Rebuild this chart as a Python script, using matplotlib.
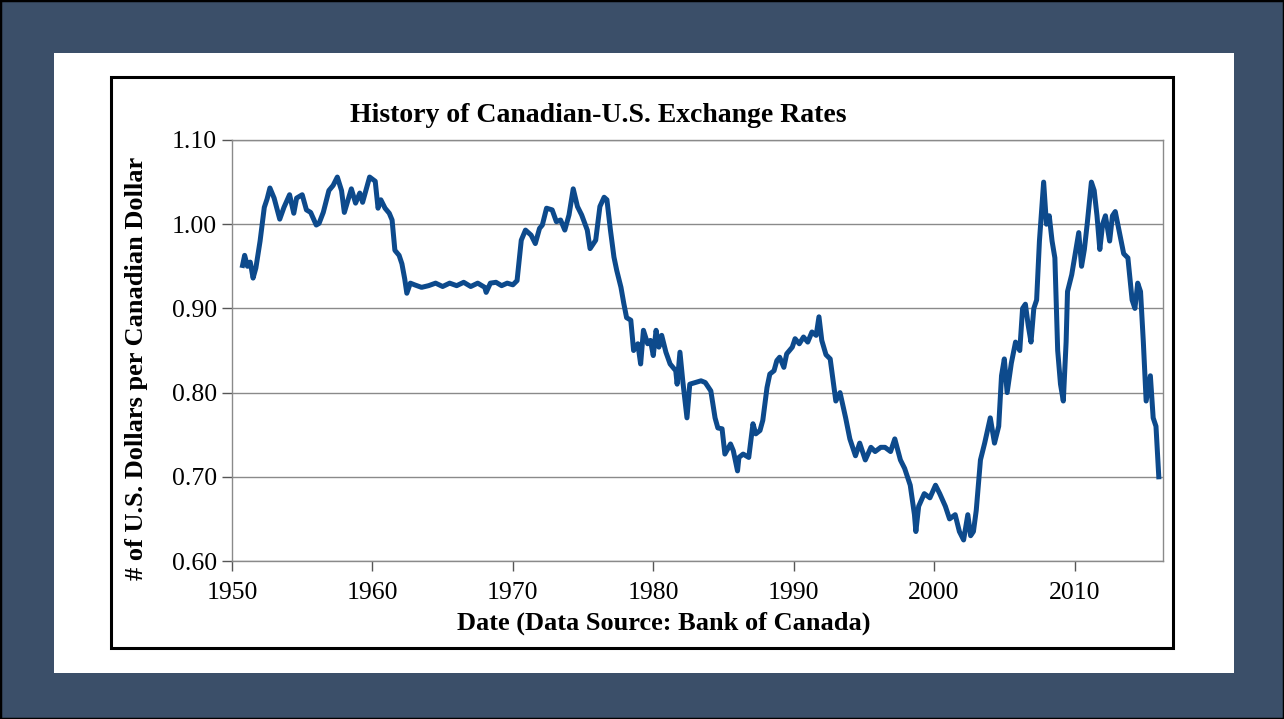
import matplotlib.pyplot as plt
from matplotlib.patches import Rectangle

W, H = 1284, 719

# (year, USD per CAD)
years = [
    1950.75, 1950.9, 1951.1, 1951.3, 1951.5, 1951.7, 1952.0, 1952.3, 1952.5, 1952.7,
    1953.0, 1953.4, 1953.7, 1954.1, 1954.4, 1954.6, 1955.0, 1955.3, 1955.6, 1956.0,
    1956.2, 1956.5, 1956.9, 1957.2, 1957.5, 1957.8, 1958.0, 1958.3, 1958.5, 1958.8,
    1959.1, 1959.3, 1959.8, 1960.2, 1960.4, 1960.6, 1960.9, 1961.2, 1961.4, 1961.6,
    1961.9, 1962.1, 1962.3, 1962.45, 1962.7, 1963.0, 1963.5, 1964.0, 1964.5, 1965.0,
    1965.5, 1966.0, 1966.5, 1967.0, 1967.5, 1968.0, 1968.1, 1968.4, 1968.8, 1969.2,
    1969.6, 1970.0, 1970.3, 1970.6, 1970.9, 1971.3, 1971.6, 1971.9, 1972.1, 1972.4,
    1972.8, 1973.1, 1973.4, 1973.7, 1974.0, 1974.3, 1974.6, 1974.9, 1975.3, 1975.5,
    1975.9, 1976.2, 1976.5, 1976.7, 1976.95, 1977.2, 1977.4, 1977.7, 1977.9, 1978.1,
    1978.4, 1978.6, 1978.9, 1979.1, 1979.3, 1979.6, 1979.8, 1980.0, 1980.2, 1980.4,
    1980.6, 1980.9, 1981.2, 1981.6, 1981.7, 1981.9, 1982.1, 1982.4, 1982.6, 1983.0,
    1983.4, 1983.7, 1984.1, 1984.4, 1984.6, 1984.9, 1985.1, 1985.5, 1985.7, 1986.0,
    1986.1, 1986.4, 1986.8, 1987.1, 1987.3, 1987.6, 1987.8, 1988.1, 1988.3, 1988.6,
    1988.8, 1989.0, 1989.3, 1989.5, 1989.9, 1990.1, 1990.4, 1990.7, 1991.0, 1991.3,
    1991.6, 1991.8, 1992.0, 1992.3, 1992.6, 1993.0, 1993.3, 1993.7, 1994.0, 1994.4,
    1994.7, 1995.1, 1995.5, 1995.8, 1996.2, 1996.5, 1996.9, 1997.2, 1997.6, 1997.9,
    1998.3, 1998.6, 1998.7, 1998.9, 1999.3, 1999.7, 2000.1, 2000.4, 2000.8, 2001.1,
    2001.5, 2001.8, 2002.1, 2002.4, 2002.6, 2002.8, 2003.0, 2003.3, 2003.6, 2004.0,
    2004.3, 2004.6, 2004.8, 2005.0, 2005.2, 2005.5, 2005.8, 2006.1, 2006.3, 2006.5,
    2006.7, 2006.9, 2007.1, 2007.3, 2007.5, 2007.8, 2008.0, 2008.2, 2008.4, 2008.6,
    2008.8, 2009.0, 2009.2, 2009.4, 2009.5, 2009.8, 2010.1, 2010.3, 2010.5, 2010.7,
    2010.9, 2011.2, 2011.4, 2011.6, 2011.8, 2012.0, 2012.2, 2012.5, 2012.7, 2012.9,
    2013.2, 2013.5, 2013.8, 2014.1, 2014.3, 2014.5, 2014.7, 2014.9, 2015.1, 2015.4,
    2015.6, 2015.8, 2016.0,
]
rates = [
    0.951, 0.963, 0.950, 0.955, 0.936, 0.948, 0.980, 1.020, 1.030, 1.043,
    1.031, 1.006, 1.020, 1.035, 1.013, 1.031, 1.035, 1.017, 1.014, 0.999,
    1.001, 1.014, 1.040, 1.046, 1.056, 1.040, 1.014, 1.031, 1.042, 1.025,
    1.037, 1.026, 1.056, 1.051, 1.019, 1.029, 1.019, 1.013, 1.005, 0.969,
    0.963, 0.953, 0.935, 0.918, 0.930, 0.928, 0.925, 0.927, 0.930, 0.926,
    0.930, 0.927, 0.931, 0.926, 0.930, 0.925, 0.919, 0.930, 0.931, 0.927,
    0.930, 0.928, 0.933, 0.981, 0.993, 0.987, 0.977, 0.995, 0.999, 1.019,
    1.017, 1.003, 1.005, 0.993, 1.011, 1.042, 1.021, 1.011, 0.993, 0.971,
    0.981, 1.021, 1.032, 1.029, 0.993, 0.961, 0.945, 0.925, 0.906, 0.889,
    0.886, 0.850, 0.858, 0.834, 0.874, 0.858, 0.862, 0.844, 0.874, 0.854,
    0.868, 0.848, 0.834, 0.826, 0.810, 0.848, 0.814, 0.770, 0.810, 0.812,
    0.814, 0.812, 0.802, 0.770, 0.758, 0.757, 0.727, 0.739, 0.731, 0.707,
    0.723, 0.727, 0.723, 0.763, 0.751, 0.755, 0.767, 0.806, 0.822, 0.826,
    0.838, 0.842, 0.830, 0.846, 0.854, 0.864, 0.858, 0.866, 0.860, 0.872,
    0.868, 0.890, 0.862, 0.845, 0.840, 0.790, 0.800, 0.770, 0.745, 0.725,
    0.740, 0.720, 0.735, 0.730, 0.735, 0.735, 0.730, 0.745, 0.720, 0.710,
    0.690, 0.655, 0.635, 0.665, 0.680, 0.675, 0.690, 0.680, 0.665, 0.650,
    0.655, 0.635, 0.625, 0.655, 0.630, 0.635, 0.660, 0.720, 0.740, 0.770,
    0.740, 0.760, 0.820, 0.840, 0.800, 0.835, 0.860, 0.850, 0.900, 0.905,
    0.880, 0.860, 0.900, 0.910, 0.980, 1.050, 1.000, 1.010, 0.980, 0.960,
    0.850, 0.810, 0.790, 0.860, 0.920, 0.940, 0.970, 0.990, 0.950, 0.970,
    1.000, 1.050, 1.040, 1.010, 0.970, 1.000, 1.010, 0.980, 1.010, 1.015,
    0.990, 0.965, 0.960, 0.910, 0.900, 0.930, 0.920, 0.860, 0.790, 0.820,
    0.770, 0.760, 0.700,
]

x_ticks = [1950, 1960, 1970, 1980, 1990, 2000, 2010]
y_ticks = [0.60, 0.70, 0.80, 0.90, 1.00, 1.10]

BG = "#3b4f69"
LINE = "#0d4a8c"
SERIF = ["Liberation Serif", "DejaVu Serif"]


def px(x, y):
    return x / W, 1 - y / H


fig = plt.figure(figsize=(W / 100, H / 100), dpi=100)
fig.patch.set_facecolor(BG)

# white panel and black chart frame
fig.patches.append(Rectangle(px(54, 673), 1180 / W, 620 / H, transform=fig.transFigure,
                             facecolor="white", edgecolor="none", zorder=0))
fig.patches.append(Rectangle(px(111, 648), 1062 / W, 571 / H, transform=fig.transFigure,
                             facecolor="white", edgecolor="black", linewidth=2.2, zorder=1))
fig.patches.append(Rectangle((0, 0), 1, 1, transform=fig.transFigure,
                             facecolor="none", edgecolor="black", linewidth=2.5, zorder=2))

left, top = px(232, 140)
right, bottom = px(1163, 561)
ax = fig.add_axes([left, bottom, right - left, top - bottom], zorder=3)
ax.set_facecolor("white")

ax.plot(years, rates, color=LINE, linewidth=3.6, solid_joinstyle="round", zorder=3)

ax.set_xlim(1950, 2016.3)
ax.set_ylim(0.60, 1.10)
ax.set_xticks(x_ticks)
ax.set_yticks(y_ticks)
ax.set_yticklabels([f"{v:.2f}" for v in y_ticks])
ax.grid(axis="y", color="#8a8a8a", linewidth=1.0, zorder=1)
for s in ax.spines.values():
    s.set_color("#8a8a8a")
    s.set_linewidth(1.0)
ax.tick_params(axis="both", direction="out", length=7, width=1.0, color="#555555",
               labelsize=18.5)
ax.tick_params(axis="x", pad=8)
ax.tick_params(axis="y", pad=4)
for lab in ax.get_xticklabels() + ax.get_yticklabels():
    lab.set_family(SERIF)

fig.text(598 / W, 1 - 115 / H, "History of Canadian-U.S. Exchange Rates",
         ha="center", va="center", fontsize=20, fontweight="bold", family=SERIF, zorder=4)
fig.text(664 / W, 1 - 623 / H, "Date (Data Source: Bank of Canada)",
         ha="center", va="center", fontsize=19, fontweight="bold", family=SERIF, zorder=4)
fig.text(137 / W, 1 - 368 / H, "# of U.S. Dollars per Canadian Dollar",
         ha="center", va="center", rotation=90, fontsize=19, fontweight="bold",
         family=SERIF, zorder=4)

fig.savefig("out.png", dpi=100, facecolor=BG)
